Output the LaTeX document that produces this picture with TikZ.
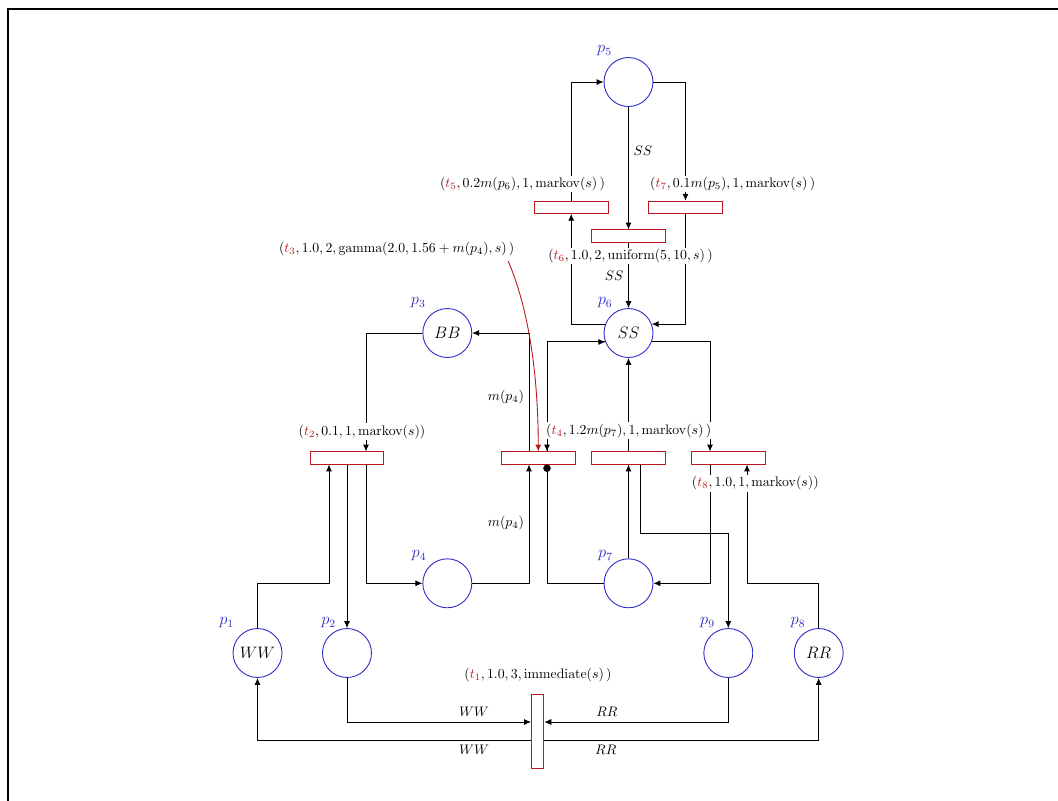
\documentclass[tikz,border=0pt]{standalone}
\usepackage{amsmath}
\usepackage{tikz}
\usetikzlibrary{arrows.meta, calc}

\definecolor{placeblue}{RGB}{45,45,200}
\definecolor{transred}{RGB}{185,25,30}
\newcommand{\tname}[1]{\textcolor{transred}{t_{#1}}}

\tikzset{
  placenode/.style={draw=placeblue, circle, minimum size=35.5pt, inner sep=0pt, font=\large},
  plabel/.style={text=placeblue, font=\large, inner sep=1pt},
  transbox/.style={draw=transred, line width=0.65pt, rectangle, minimum width=53.4pt, minimum height=8.8pt, inner sep=0pt},
  vtransbox/.style={transbox, minimum width=9pt, minimum height=53.4pt},
  pnarc/.style={-{Latex[length=5pt, width=4.4pt]}},
  inhib/.style={-{Circle[length=5.4pt]}},
  tlabel/.style={fill=white, inner sep=1pt},
}

\begin{document}
\begin{tikzpicture}[x=0.725pt, y=-0.725pt, line width=0.65pt]
\useasboundingbox (0,0) rectangle (1058,800);
% Frame
\draw[line width=1.5pt] (8,9) rectangle (1100,850);

% Places
\node[placenode] (p1) at (257.5,653) {$WW$};
\node[placenode] (p2) at (347,653) {};
\node[placenode] (p3) at (447.3,333) {$BB$};
\node[placenode] (p4) at (447.3,583.3) {};
\node[placenode] (p5) at (628.5,82) {};
\node[placenode] (p6) at (628.5,333) {$SS$};
\node[placenode] (p7) at (628.5,583.3) {};
\node[placenode] (p8) at (818.7,653) {$RR$};
\node[placenode] (p9) at (728.3,653) {};

% Place names
\node[plabel] (p1name) at (226.7,623) {$p_1$};
\node[plabel] (p2name) at (328.7,623) {$p_2$};
\node[plabel] (p3name) at (418.3,303) {$p_3$};
\node[plabel] (p4name) at (419,556) {$p_4$};
\node[plabel] (p5name) at (604.5,51) {$p_5$};
\node[plabel] (p6name) at (605.2,303) {$p_6$};
\node[plabel] (p7name) at (605.5,556) {$p_7$};
\node[plabel] (p8name) at (798,623) {$p_8$};
\node[plabel] (p9name) at (707.5,623) {$p_9$};

% Transitions
\node[vtransbox] (t1) at (537.7,731.3) {};
\node[transbox] (t2) at (347,458) {};
\node[transbox] (t3) at (538.3,458) {};
\node[transbox] (t4) at (628.5,458) {};
\node[transbox] (t5) at (571.2,207.3) {};
\node[transbox] (t6) at (628.5,236) {};
\node[transbox] (t7) at (685.5,207.3) {};
\node[transbox] (t8) at (728.5,458) {};

% Arcs of t1
\draw[pnarc] (p2) |- node[pos=.845, above] {$WW$} (t1.west |- 0,722);
\draw[pnarc] (p9) |- node[pos=.83, above] {$RR$} (t1.east |- 0,722);
\draw[pnarc] (t1.west |- 0,740) -| node[pos=.104, below] {$WW$} (p1);
\draw[pnarc] (t1.east |- 0,740) -| node[pos=.112, below] {$RR$} (p8);

% Arcs of t2
\draw[pnarc] (p1) |- (329,583.3) -- (t2.south -| 329,0);
\draw[pnarc] (p3) -| (t2.north -| 366,0);
\draw[pnarc] (t2) -- (p2);
\draw[pnarc] (t2.south -| 366,0) |- (p4);

% Arcs of t3
\draw[pnarc] (t3.north -| 529,0) |- node[pos=.23, left] {$m(p_4)$} (p3);
\draw[pnarc] (p4) -| node[pos=.755, left] {$m(p_4)$} (t3.south -| 529,0);
\draw[pnarc] (p6.201) -| (t3.north -| 547,0);
\draw[pnarc] (t3.north -| 547,0) |- (p6.201);
\draw[inhib] (p7) -| (t3.south -| 547,0);

% Arcs of t4
\draw[pnarc] (p7) -- (t4);
\draw[pnarc] (t4) -- (p6);
\draw[pnarc] (t4.south -| 640,0) -- (640,533.3) -| (p9);

% Arcs of t5, t6, t7
\draw[pnarc] (p6.159) -| (t5);
\draw[pnarc] (t5) |- (p5);
\draw[pnarc] (p5) -- node[pos=.36, right] {$SS$} (t6);
\draw[pnarc] (t6) -- node[left] {$SS$} (p6);
\draw[pnarc] (p5) -| (t7);
\draw[pnarc] (t7) |- (p6.21);

% Arcs of t8
\draw[pnarc] (p6.-21) -| (t8.north -| 710,0);
\draw[pnarc] (t8.south -| 710,0) |- (p7);
\draw[pnarc] (p8) |- (747,583.3) -- (t8.south -| 747,0);

% Transition labels
\node[tlabel] (t1lbl) at (538,675) {$(\tname{1}, 1.0, 3, \mathrm{immediate}(s)\,)$};
\node[tlabel] (t2lbl) at (362,431.7) {$(\tname{2}, 0.1, 1, \mathrm{markov}(s))$};
\node[tlabel] (t3lbl) at (396.7,249.3) {$(\tname{3}, 1.0, 2, \mathrm{gamma}(2.0, 1.56+m(p_4), s)\,)$};
\node[tlabel] (t4lbl) at (628.7,430.7) {$(\tname{4}, 1.2m(p_7), 1, \mathrm{markov}(s)\,)$};
\node[tlabel] (t5lbl) at (522.5,184) {$(\tname{5}, 0.2m(p_6), 1, \mathrm{markov}(s)\,)$};
\node[tlabel] (t6lbl) at (630.5,256) {$(\tname{6}, 1.0, 2, \mathrm{uniform}(5, 10, s)\,)$};
\node[tlabel] (t7lbl) at (732.7,184) {$(\tname{7}, 0.1m(p_5), 1, \mathrm{markov}(s)\,)$};
\node[tlabel] (t8lbl) at (755.3,483.3) {$(\tname{8}, 1.0, 1, \mathrm{markov}(s))$};

% Pointer from the label of t3
\draw[pnarc, transred] ($(t3lbl.south east)+(-8,3)$) .. controls (525,300) and (538,360) .. (t3.north);

\end{tikzpicture}
\end{document}
